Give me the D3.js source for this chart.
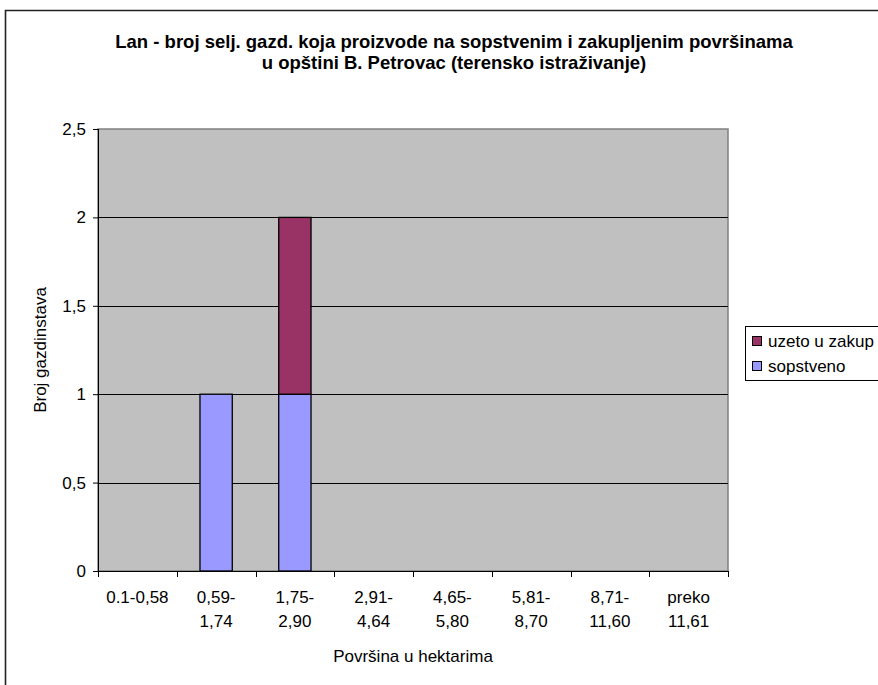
<!DOCTYPE html>
<html>
<head>
<meta charset="utf-8">
<script src="https://cdn.jsdelivr.net/npm/d3@7"></script>
<style>
  html, body { margin: 0; padding: 0; background: #fff; }
  svg { display: block; font-family: "Liberation Sans", Arial, sans-serif; }
</style>
</head>
<body>
<svg id="chart" width="878" height="685"></svg>
<script>
// Size classes (two-line labels) and farm counts per land type
const categories = [
  ["0.1-0,58"], ["0,59-", "1,74"], ["1,75-", "2,90"], ["2,91-", "4,64"],
  ["4,65-", "5,80"], ["5,81-", "8,70"], ["8,71-", "11,60"], ["preko", "11,61"]
];
const sopstveno = [0, 1, 1, 0, 0, 0, 0, 0];
const uzetoUZakup = [0, 0, 1, 0, 0, 0, 0, 0];
const yTicks = [0, 0.5, 1, 1.5, 2, 2.5];
const seriesNames = ["sopstveno", "uzeto u zakup"];
const seriesColors = ["#9999FF", "#993366"];
const titleLines = [
  "Lan - broj selj. gazd. koja proizvode na sopstvenim i zakupljenim površinama",
  "u opštini B. Petrovac (terensko istraživanje)"
];

const FS = 17;          // axis, label and legend text size
const svg = d3.select("#chart");
const plot = { left: 98, right: 728, top: 129, bottom: 571 };

// Outer chart frame (continues past the right and bottom edges)
svg.append("path")
  .attr("d", "M5.5,700 L5.5,10.5 L900,10.5")
  .attr("fill", "none").attr("stroke", "#222").attr("stroke-width", 1.6);

const keys = categories.map((d, i) => i);
const x = d3.scaleBand().domain(keys).range([plot.left, plot.right]).paddingInner(0).paddingOuter(0);
const y = d3.scaleLinear().domain([0, 2.5]).range([plot.bottom, plot.top]);

// Plot background
svg.append("rect")
  .attr("x", plot.left).attr("y", plot.top)
  .attr("width", plot.right - plot.left).attr("height", plot.bottom - plot.top)
  .attr("fill", "#C0C0C0").attr("stroke", "#808080").attr("stroke-width", 1.5);

// Horizontal gridlines
svg.append("g").selectAll("line")
  .data(yTicks.filter(v => v > 0 && v < 2.5))
  .join("line")
  .attr("x1", plot.left).attr("x2", plot.right)
  .attr("y1", d => Math.round(y(d)) + 0.5).attr("y2", d => Math.round(y(d)) + 0.5)
  .attr("stroke", "#000").attr("stroke-width", 1);

// Stacked bars
const table = keys.map(i => ({ key: i, sopstveno: sopstveno[i], uzeto: uzetoUZakup[i] }));
const stack = d3.stack().keys(["sopstveno", "uzeto"])(table);
const barW = x.bandwidth() * 0.41;
stack.forEach((layer, li) => {
  svg.append("g").selectAll("rect")
    .data(layer.filter(d => d[1] - d[0] > 0))
    .join("rect")
    .attr("x", d => x(d.data.key) + (x.bandwidth() - barW) / 2)
    .attr("y", d => y(d[1]))
    .attr("width", barW)
    .attr("height", d => y(d[0]) - y(d[1]))
    .attr("fill", seriesColors[li])
    .attr("stroke", "#000").attr("stroke-width", 1.3);
});

// Y axis
const yAxis = d3.axisLeft(y).tickValues(yTicks).tickSize(5).tickPadding(7)
  .tickFormat(d => String(d).replace(".", ","));
const gy = svg.append("g").attr("transform", `translate(${plot.left},0)`).call(yAxis);
gy.select(".domain").attr("stroke", "#000").attr("d", `M0.5,${plot.top}V${plot.bottom}`);
gy.selectAll(".tick line").attr("stroke", "#000");
gy.selectAll(".tick text").attr("font-size", FS).attr("fill", "#000")
  .attr("font-family", "Liberation Sans, Arial, sans-serif");

// X axis: ticks at category boundaries
const boundaries = keys.map(i => x(i)).concat([plot.right]);
const gx = svg.append("g");
gx.append("line")
  .attr("x1", plot.left).attr("x2", plot.right)
  .attr("y1", plot.bottom + 0.5).attr("y2", plot.bottom + 0.5)
  .attr("stroke", "#000");
gx.selectAll("line.tk").data(boundaries).join("line").attr("class", "tk")
  .attr("x1", d => Math.round(d) + 0.5).attr("x2", d => Math.round(d) + 0.5)
  .attr("y1", plot.bottom).attr("y2", plot.bottom + 6)
  .attr("stroke", "#000");
const lbl = gx.selectAll("text.cat").data(categories).join("text").attr("class", "cat")
  .attr("text-anchor", "middle").attr("font-size", FS).attr("fill", "#000");
lbl.selectAll("tspan").data((d, i) => d.map(s => ({ s, i }))).join("tspan")
  .attr("x", d => x(d.i) + x.bandwidth() / 2)
  .attr("y", (d, j) => 603 + j * 24)
  .text(d => d.s);

// Axis titles
svg.append("text")
  .attr("x", (plot.left + plot.right) / 2).attr("y", 662)
  .attr("text-anchor", "middle").attr("font-size", FS).attr("fill", "#000")
  .text("Površina u hektarima");
svg.append("text")
  .attr("transform", `translate(46,${(plot.top + plot.bottom) / 2}) rotate(-90)`)
  .attr("text-anchor", "middle").attr("font-size", FS).attr("fill", "#000")
  .text("Broj gazdinstava");

// Title
svg.append("g").selectAll("text").data(titleLines).join("text")
  .attr("x", 454).attr("y", (d, i) => 48 + i * 21)
  .attr("text-anchor", "middle").attr("font-size", 18.5).attr("font-weight", "bold")
  .attr("fill", "#000")
  .text(d => d);

// Legend (top entry is the upper stack layer)
const legend = svg.append("g");
legend.append("rect")
  .attr("x", 745.5).attr("y", 326.5).attr("width", 160).attr("height", 54)
  .attr("fill", "#fff").attr("stroke", "#000");
const legendOrder = [1, 0];
legendOrder.forEach((si, k) => {
  const cy = 341 + k * 25;
  legend.append("rect")
    .attr("x", 752.5).attr("y", cy - 4.5).attr("width", 9).attr("height", 9)
    .attr("fill", seriesColors[si]).attr("stroke", "#000");
  legend.append("text")
    .attr("x", 768).attr("y", cy + 6)
    .attr("font-size", FS).attr("fill", "#000")
    .text(seriesNames[si]);
});
</script>
</body>
</html>
